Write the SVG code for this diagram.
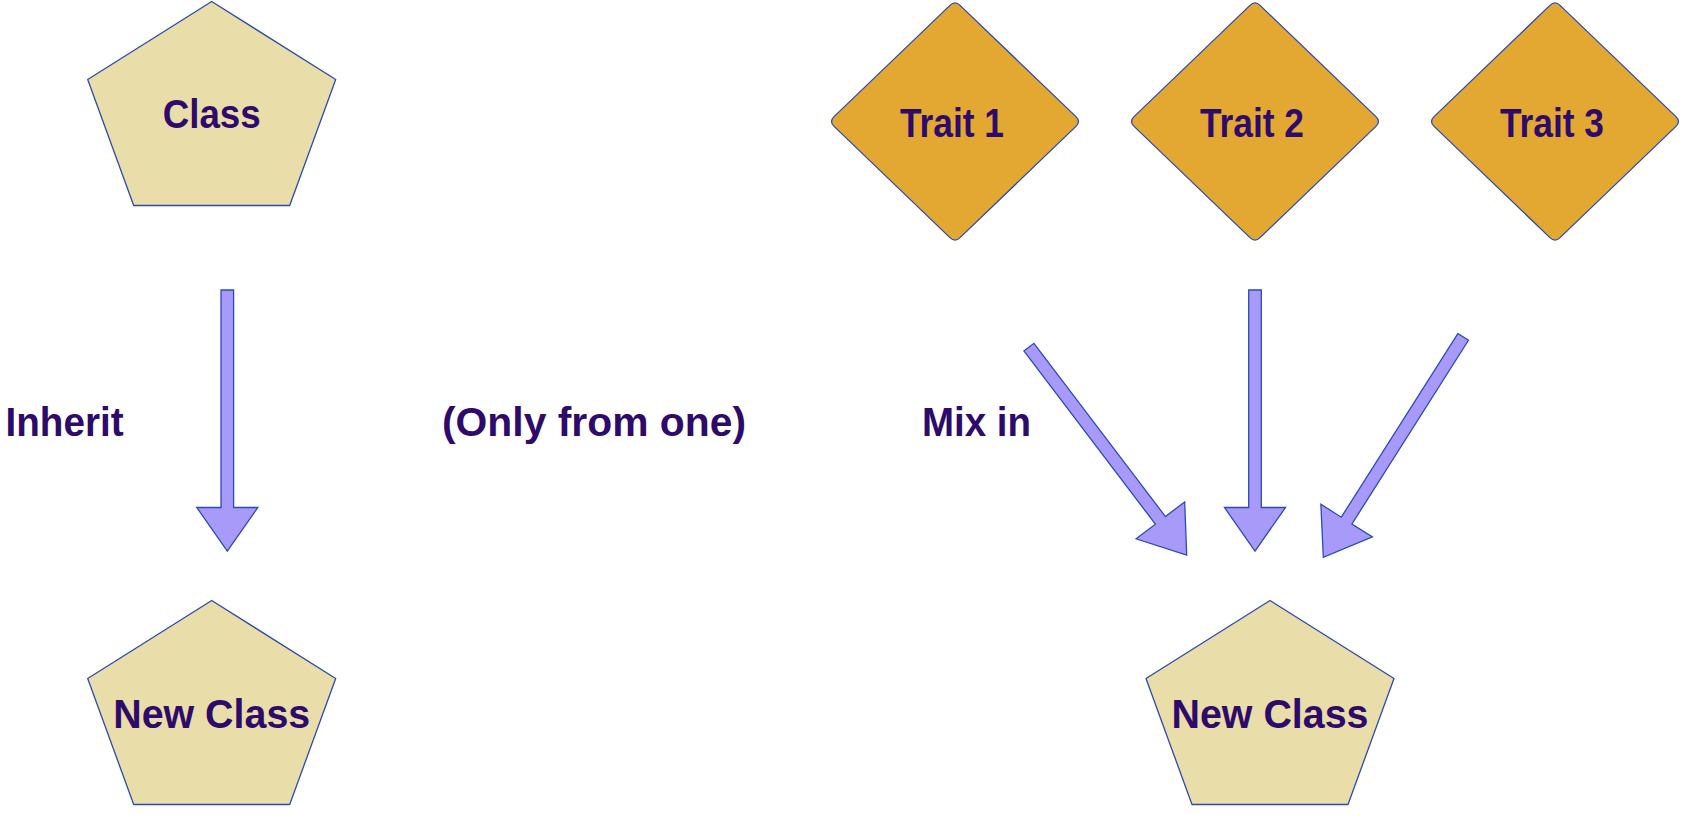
<svg xmlns="http://www.w3.org/2000/svg" width="1683" height="826" viewBox="0 0 1683 826">
<style>
.pent{fill:#E9DDA9;stroke:#2B4BB0;stroke-width:1.3;stroke-linejoin:round}
.dia{fill:#E2A832;stroke:#2B4BB0;stroke-width:1.3}
.arr{fill:#A89AF9;stroke:#2B4BB8;stroke-width:1.3;stroke-linejoin:miter}
.t{font-family:"Liberation Sans",Arial,sans-serif;font-weight:bold;font-size:40px;fill:#2E0A6B}
</style>
<defs>
<path id="arrow" d="M -6.3,-261 L 6.3,-261 L 6.3,-43.5 L 30.5,-43.5 L 0,0 L -30.5,-43.5 L -6.3,-43.5 Z"/>
<path id="diamond" d="M 5.05,-116.15 L 120.95,-4.85 Q 126,0 120.95,4.85 L 5.05,116.15 Q 0,121 -5.05,116.15 L -120.95,4.85 Q -126,0 -120.95,-4.85 L -5.05,-116.15 Q 0,-121 5.05,-116.15 Z"/>
<polygon id="pentagon" points="0,0 124,78 78,204 -78,204 -124,78"/>
</defs>

<g id="class">
<use href="#pentagon" class="pent" transform="translate(211.7,1.5)"/>
<text class="t" x="211.7" y="128" text-anchor="middle" textLength="98" lengthAdjust="spacingAndGlyphs">Class</text>
</g>

<g id="new-class-left">
<use href="#pentagon" class="pent" transform="translate(211.7,600.5)"/>
<text class="t" x="211.7" y="727.5" text-anchor="middle" textLength="197" lengthAdjust="spacingAndGlyphs">New Class</text>
</g>

<g id="trait1">
<use href="#diamond" class="dia" transform="translate(955,121.5)"/>
<text class="t" x="952" y="136.7" text-anchor="middle" textLength="104" lengthAdjust="spacingAndGlyphs">Trait 1</text>
</g>
<g id="trait2">
<use href="#diamond" class="dia" transform="translate(1255,121.5)"/>
<text class="t" x="1252" y="136.7" text-anchor="middle" textLength="104" lengthAdjust="spacingAndGlyphs">Trait 2</text>
</g>
<g id="trait3">
<use href="#diamond" class="dia" transform="translate(1555,121.5)"/>
<text class="t" x="1552" y="136.7" text-anchor="middle" textLength="104" lengthAdjust="spacingAndGlyphs">Trait 3</text>
</g>

<g id="new-class-right">
<use href="#pentagon" class="pent" transform="translate(1270,600.5)"/>
<text class="t" x="1270" y="727.5" text-anchor="middle" textLength="197" lengthAdjust="spacingAndGlyphs">New Class</text>
</g>

<g id="connectors">
<use href="#arrow" class="arr" transform="translate(227.3,551)"/>
<use href="#arrow" class="arr" transform="translate(1255,551)"/>
<use href="#arrow" class="arr" transform="translate(1186.7,555) rotate(-37.2)"/>
<use href="#arrow" class="arr" transform="translate(1323.3,557.3) rotate(32.4)"/>
</g>

<g id="labels">
<text class="t" x="5.5" y="436" textLength="118" lengthAdjust="spacingAndGlyphs">Inherit</text>
<text class="t" x="442" y="436" textLength="304" lengthAdjust="spacingAndGlyphs">(Only from one)</text>
<text class="t" x="922" y="436" textLength="109" lengthAdjust="spacingAndGlyphs">Mix in</text>
</g>
</svg>
